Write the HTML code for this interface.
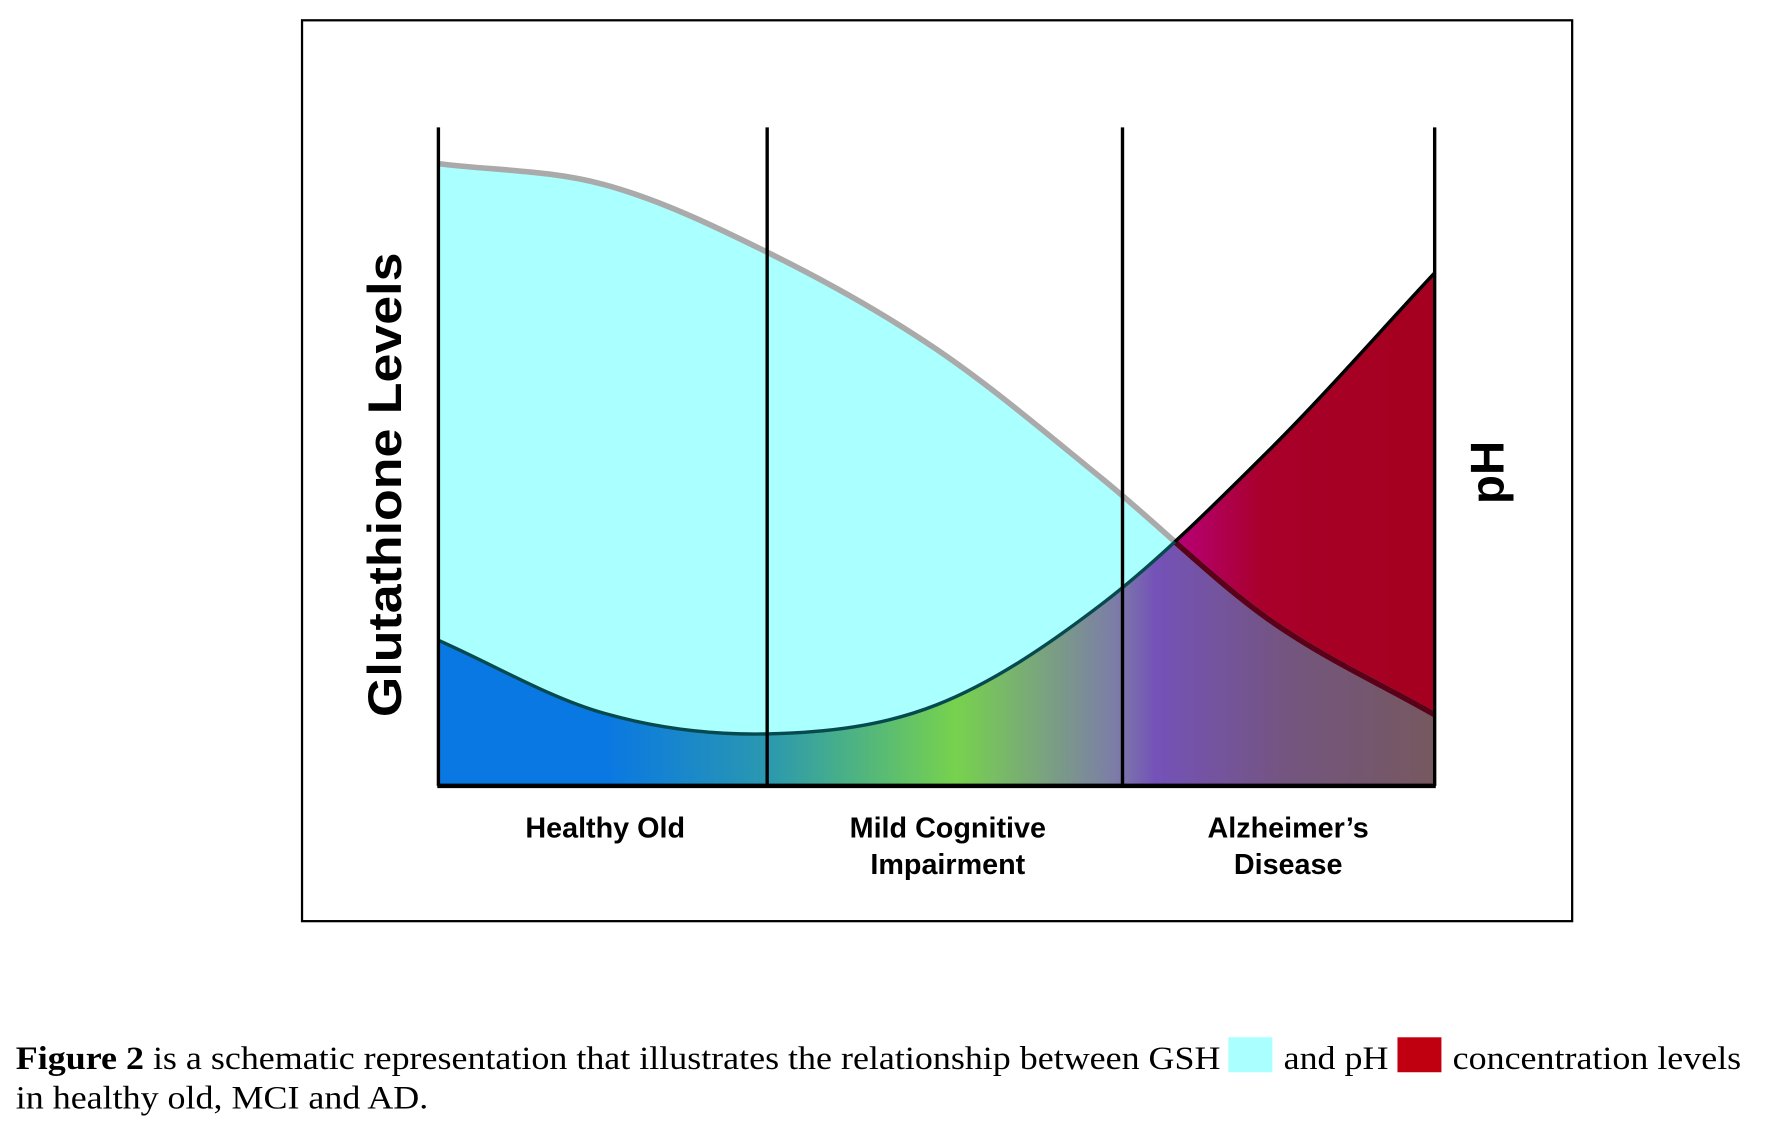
<!DOCTYPE html>
<html><head><meta charset="utf-8"><style>
html,body{margin:0;padding:0;background:#fff;}
svg{display:block;}
</style></head><body>
<svg id="chart" width="1766" height="1132" viewBox="0 0 1567 1004" preserveAspectRatio="none" xmlns="http://www.w3.org/2000/svg">
<defs>
<linearGradient id="phGrad" gradientUnits="userSpaceOnUse" x1="389" y1="0" x2="1273" y2="0">
<stop offset="0" stop-color="#0a78e2"/>
<stop offset="0.17" stop-color="#0a78e2"/>
<stop offset="0.33" stop-color="#2a98b0"/>
<stop offset="0.52" stop-color="#77d24d"/>
<stop offset="0.68" stop-color="#7c7ca8"/>
<stop offset="0.72" stop-color="#7452b8"/>
<stop offset="0.85" stop-color="#745580"/>
<stop offset="1" stop-color="#765860"/>
</linearGradient>
<linearGradient id="redGrad" gradientUnits="userSpaceOnUse" x1="1040" y1="0" x2="1273" y2="0">
<stop offset="0" stop-color="#b8007a"/>
<stop offset="0.35" stop-color="#a8002a"/>
<stop offset="1" stop-color="#a5001e"/>
</linearGradient>
<clipPath id="aboveGsh"><path id="clipPathShape"/></clipPath>
</defs>
<rect x="268" y="18" width="1127" height="799" fill="#fff" stroke="#000" stroke-width="2"/>
<g id="plot"></g>
<text transform="translate(356,430) rotate(-90)" text-anchor="middle" font-family="Liberation Sans, sans-serif" font-weight="bold" font-size="42" textLength="412" lengthAdjust="spacingAndGlyphs">Glutathione Levels</text>
<text transform="translate(1334,419) rotate(-90)" text-anchor="middle" font-family="Liberation Sans, sans-serif" font-weight="bold" font-size="42">pH</text>
<g font-family="Liberation Sans, sans-serif" font-weight="bold" font-size="25.5" text-anchor="middle">
<text x="537" y="743">Healthy Old</text>
<text x="841" y="743">Mild Cognitive</text>
<text x="841" y="775">Impairment</text>
<text x="1143" y="743">Alzheimer’s</text>
<text x="1143" y="775">Disease</text>
</g>
<g font-family="Liberation Serif, serif" font-size="29">
<text x="14" y="948" textLength="1069" lengthAdjust="spacingAndGlyphs"><tspan font-weight="bold">Figure 2</tspan> is a schematic representation that illustrates the relationship between GSH</text>
<rect x="1090" y="920" width="39" height="31" fill="#aaffff"/>
<text x="1139" y="948" textLength="93" lengthAdjust="spacingAndGlyphs">and pH</text>
<rect x="1240" y="920" width="39" height="31" fill="#c00010"/>
<text x="1289" y="948" textLength="256" lengthAdjust="spacingAndGlyphs">concentration levels</text>
<text x="14" y="983" textLength="366" lengthAdjust="spacingAndGlyphs">in healthy old, MCI and AD.</text>
</g>
</svg>
<script>
const stages = [0, 0.5, 1, 1.5, 2, 2.5, 3];
const gshValues = [94.5, 91.3, 80.8, 66.3, 46.6, 25.3, 10.8];
const phValues = [22.1, 11.0, 7.9, 12.3, 27.7, 50.9, 77.9];
const dividers = [0, 0.99, 2.06, 3];

const X0 = 389, X1 = 1273, Y0 = 697, Y1 = 113;
function xs(t){ return X0 + (X1 - X0) * t / 3; }
function ys(v){ return Y0 - (Y0 - Y1) * v / 100; }
function curve(vals){
  const p = stages.map((t,i)=>[xs(t), ys(vals[i])]);
  const n = p.length;
  const pre = [2*p[0][0]-p[1][0], 2*p[0][1]-p[1][1]];
  const post = [2*p[n-1][0]-p[n-2][0], 2*p[n-1][1]-p[n-2][1]];
  let d = 'M' + p[0][0] + ',' + p[0][1];
  for (let i=0;i<n-1;i++){
    const a = i===0 ? pre : p[i-1], b=p[i], c=p[i+1], e = i+2>=n ? post : p[i+2];
    const c1=[b[0]+(c[0]-a[0])/6, b[1]+(c[1]-a[1])/6];
    const c2=[c[0]-(e[0]-b[0])/6, c[1]-(e[1]-b[1])/6];
    d += ' C'+c1[0]+','+c1[1]+' '+c2[0]+','+c2[1]+' '+c[0]+','+c[1];
  }
  return d;
}
const NS='http://www.w3.org/2000/svg';
const plot=document.getElementById('plot');
function mk(tag, attrs){ const el=document.createElementNS(NS,tag); for(const k in attrs) el.setAttribute(k,attrs[k]); plot.appendChild(el); return el; }
const gshD = curve(gshValues), phD = curve(phValues);
const base = ' L'+X1+','+Y0+' L'+X0+','+Y0+' Z';
document.getElementById('clipPathShape').setAttribute('d', gshD + ' L'+X1+','+(Y1-50)+' L'+X0+','+(Y1-50)+' Z');
const cp = document.createElementNS(NS,'clipPath'); cp.setAttribute('id','belowPh');
const cpp = document.createElementNS(NS,'path'); cpp.setAttribute('d', phD+base); cp.appendChild(cpp);
document.querySelector('defs').appendChild(cp);

let el = mk('path',{d:gshD+base, fill:'#aaffff'});


el = mk('path',{d:phD+base, fill:'url(#phGrad)'});


el = mk('path',{d:phD+base, fill:'url(#redGrad)', 'clip-path':'url(#aboveGsh)'});


el = mk('path',{d:gshD, fill:'none', stroke:'#aaaaaa', 'stroke-width':5});


el = mk('path',{d:gshD, fill:'none', stroke:'#5a0018', 'stroke-width':5, 'clip-path':'url(#belowPh)'});


el = mk('path',{d:phD, fill:'none', stroke:'#064a50', 'stroke-width':3});


el = mk('path',{d:phD, fill:'none', stroke:'#000', 'stroke-width':3, 'clip-path':'url(#aboveGsh)'});



dividers.forEach((t)=>{
  const l = mk('line',{x1:xs(t), x2:xs(t), y1:Y1, y2:Y0, stroke:'#000', 'stroke-width':3});
  
  
});
const ax = mk('line',{x1:X0-1, x2:X1+1, y1:Y0, y2:Y0, stroke:'#000', 'stroke-width':4});


</script>
</body></html>
